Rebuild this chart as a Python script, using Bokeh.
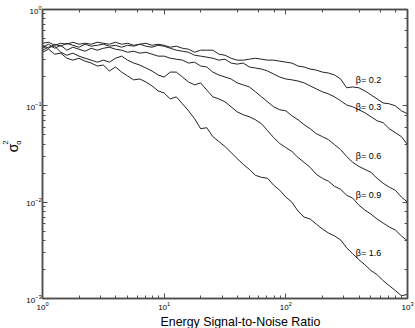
import math
from bokeh.plotting import figure
from bokeh.layouts import row
from bokeh.models import LogAxis, LogTicker, CustomJSTickFormatter, Label, Title
from bokeh.core.properties import value
from bokeh.embed import file_html
from bokeh.resources import INLINE

# ---- data -------------------------------------------------------------
decade = [1.0, 1.122, 1.259, 1.413, 1.585, 1.778, 1.995, 2.239, 2.512, 2.818,
          3.162, 3.548, 3.981, 4.467, 5.012, 5.623, 6.310, 7.079, 7.943, 8.913]
snr = [m * s for s in (1, 10, 100) for m in decade] + [1000.0]

beta_02 = [0.446, 0.457, 0.425, 0.446, 0.436, 0.457, 0.436, 0.446, 0.436, 0.457,
           0.446, 0.436, 0.457, 0.436, 0.446, 0.425, 0.436, 0.446, 0.425, 0.436,
           0.425, 0.406, 0.416, 0.396, 0.387, 0.360, 0.378, 0.378, 0.378, 0.344,
           0.335, 0.312, 0.298, 0.298, 0.305, 0.312, 0.305, 0.298, 0.298, 0.291,
           0.284, 0.278, 0.259, 0.253, 0.241, 0.235, 0.224, 0.219, 0.209, 0.190,
           0.154, 0.157, 0.154, 0.143, 0.130, 0.118, 0.107, 0.105, 0.100, 0.0888,
           0.0827]
beta_03 = [0.425, 0.396, 0.436, 0.416, 0.446, 0.425, 0.406, 0.436, 0.416, 0.425,
           0.436, 0.416, 0.425, 0.406, 0.425, 0.416, 0.436, 0.416, 0.406, 0.425,
           0.416, 0.396, 0.378, 0.369, 0.360, 0.335, 0.328, 0.320, 0.312, 0.298,
           0.305, 0.278, 0.271, 0.278, 0.253, 0.247, 0.241, 0.230, 0.214, 0.199,
           0.190, 0.186, 0.181, 0.173, 0.161, 0.150, 0.140, 0.133, 0.124, 0.113,
           0.102, 0.0977, 0.0910, 0.0847, 0.0770, 0.0700, 0.0668, 0.0579, 0.0527, 0.0479,
           0.0396]
beta_06 = [0.406, 0.436, 0.396, 0.425, 0.378, 0.406, 0.387, 0.369, 0.396, 0.378,
           0.396, 0.406, 0.387, 0.378, 0.360, 0.369, 0.352, 0.360, 0.344, 0.328,
           0.328, 0.312, 0.305, 0.298, 0.278, 0.284, 0.259, 0.253, 0.224, 0.209,
           0.199, 0.190, 0.173, 0.165, 0.157, 0.140, 0.124, 0.110, 0.0977, 0.0910,
           0.0888, 0.0789, 0.0717, 0.0637, 0.0579, 0.0514, 0.0479, 0.0446, 0.0396, 0.0352,
           0.0298, 0.0259, 0.0235, 0.0219, 0.0204, 0.0177, 0.0157, 0.0143, 0.0133, 0.0113,
           0.0100]
beta_09 = [0.378, 0.406, 0.416, 0.360, 0.335, 0.352, 0.328, 0.312, 0.298, 0.284,
           0.298, 0.284, 0.312, 0.328, 0.298, 0.278, 0.265, 0.247, 0.230, 0.209,
           0.199, 0.224, 0.224, 0.199, 0.177, 0.165, 0.173, 0.146, 0.124, 0.118,
           0.110, 0.0977, 0.0867, 0.0808, 0.0770, 0.0717, 0.0652, 0.0552, 0.0468, 0.0406,
           0.0369, 0.0336, 0.0291, 0.0259, 0.0230, 0.0195, 0.0177, 0.0165, 0.0146, 0.0136,
           0.0118, 0.0110, 0.00931, 0.00827, 0.00752, 0.00668, 0.00607, 0.00552, 0.00514, 0.00446,
           0.00396]
beta_16 = [0.360, 0.387, 0.344, 0.352, 0.312, 0.298, 0.312, 0.291, 0.278, 0.259,
           0.265, 0.230, 0.253, 0.224, 0.204, 0.186, 0.190, 0.177, 0.161, 0.143,
           0.136, 0.118, 0.124, 0.105, 0.0888, 0.0735, 0.0579, 0.0593, 0.0479, 0.0426,
           0.0378, 0.0328, 0.0284, 0.0247, 0.0219, 0.0190, 0.0181, 0.0177, 0.0150, 0.0133,
           0.0113, 0.0100, 0.00808, 0.00700, 0.00668, 0.00593, 0.00527, 0.00479, 0.00446, 0.00406,
           0.00336, 0.00291, 0.00253, 0.00224, 0.00195, 0.00177, 0.00153, 0.00136, 0.00121, 0.00107,
           0.00110]

series = [beta_02, beta_03, beta_06, beta_09, beta_16]
series_labels = ["β= 0.2", "β= 0.3", "β= 0.6", "β= 0.9", "β= 1.6"]
label_x = 376.0
label_y = [0.186, 0.0977, 0.0298, 0.0118, 0.00298]

x_title = "Energy Signal-to-Noise Ratio"
y_title_parts = ["2", "σ", "α"]

# ---- layout constants ---------------------------------------------------
FONT = "Liberation Sans"
AX = "#4d4d4d"
W, H = 415, 328
LW = 23                      # width of the strip holding the y title

# ---- y-title strip ------------------------------------------------------
ylab = figure(width=LW, height=H, x_range=(0, LW), y_range=(0, H),
              x_axis_location=None, y_axis_location=None,
              output_backend="svg", toolbar_location=None,
              min_border=0)
ylab.outline_line_color = None
ylab.grid.visible = False
ylab.background_fill_color = "white"
ylab.border_fill_color = "white"
ylab.text(x=[4.8, 12.0, 18.2], y=[177, 171, 177], text=y_title_parts,
          angle=math.pi / 2, text_font=value(FONT),
          text_font_size=["8px", "14px", "7.5px"], text_color="black",
          text_align="center", text_baseline="middle")

# ---- main plot ----------------------------------------------------------
p = figure(width=W - LW, height=H, x_axis_type="log", y_axis_type="log",
           x_range=(1, 1000), y_range=(1e-3, 1),
           output_backend="svg", toolbar_location=None,
           min_border_left=16, min_border_right=8,
           min_border_top=9, min_border_bottom=28)
p.background_fill_color = "white"
p.border_fill_color = "white"
p.outline_line_color = AX
p.outline_line_width = 1.5
p.xgrid.visible = False
p.ygrid.visible = False

for ys in series:
    p.line(snr, ys, line_color="#222222", line_width=1)

def style_axis(ax):
    ax.axis_line_color = AX
    ax.axis_line_width = 1.5
    ax.major_tick_line_color = AX
    ax.minor_tick_line_color = AX
    ax.major_tick_in = 5
    ax.major_tick_out = 0
    ax.minor_tick_in = 3
    ax.minor_tick_out = 0
    ax.major_label_text_font = FONT
    ax.major_label_text_color = "black"
    ax.major_label_text_font_size = "8px"
    ax.major_label_standoff = 1

for ax in p.xaxis + p.yaxis:
    style_axis(ax)
p.xaxis.major_label_standoff = 3

blank = CustomJSTickFormatter(code="return ''")
top = LogAxis(ticker=LogTicker(), formatter=blank)
right = LogAxis(ticker=LogTicker(), formatter=blank)
for ax in (top, right):
    style_axis(ax)
    ax.major_label_standoff = 0
p.add_layout(top, "above")
p.add_layout(right, "right")

for txt, ly in zip(series_labels, label_y):
    p.add_layout(Label(x=label_x, y=ly, text=txt, text_font=FONT,
                       text_font_size="9px", text_color="black",
                       text_align="left", text_baseline="middle"))

p.add_layout(Title(text=x_title, align="left", offset=118, standoff=0,
                   text_font=FONT, text_font_size="12.4px",
                   text_font_style="normal", text_color="black"), "below")

layout = row(ylab, p, spacing=0)
open("out.html", "w").write(file_html(layout, INLINE))
